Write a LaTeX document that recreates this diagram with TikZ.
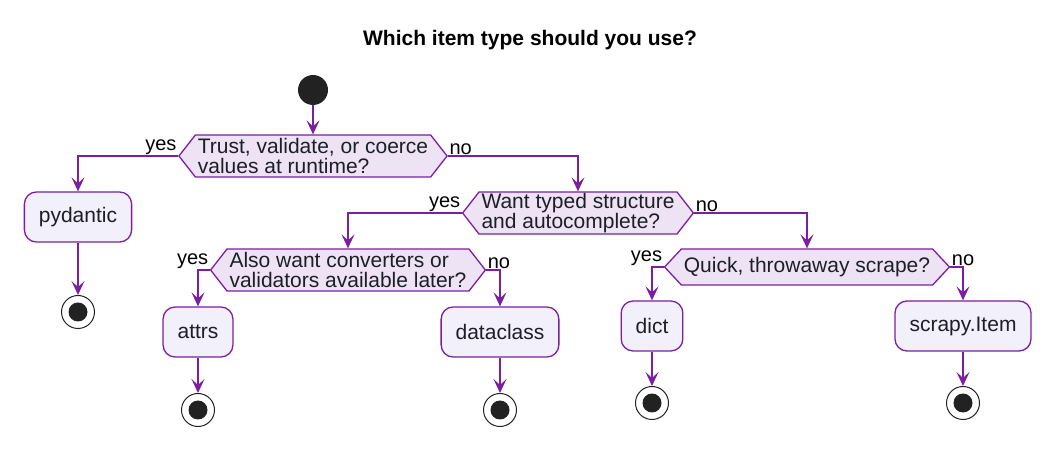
\documentclass[tikz,border=0pt]{standalone}
\usepackage{fontspec}
\setmainfont{Liberation Sans}
\usetikzlibrary{arrows.meta,shapes.symbols}

\definecolor{flowline}{HTML}{7B1FA2}
\definecolor{actfill}{HTML}{F2F0FA}
\definecolor{decfill}{HTML}{EDE3F5}
\definecolor{inkdot}{HTML}{222222}
\definecolor{inktext}{HTML}{1E1E28}

\begin{document}
\begin{tikzpicture}[
  x=1pt,y=-1pt,
  >={Stealth[length=14pt,width=13pt,inset=6pt]},
  txt/.style={font=\fontsize{21}{20}\selectfont, text=inktext},
  action/.style={txt, rectangle, rounded corners=12pt, draw=flowline, fill=actfill, line width=1.3pt, minimum height=50pt, inner xsep=14.5pt},
  decision/.style={txt, signal, signal to=west and east, signal pointer angle=104, draw=flowline, fill=decfill, line width=1.3pt, inner xsep=2.5pt, inner ysep=1pt, minimum height=42pt, align=left},
  startdot/.style={circle, fill=inkdot, minimum size=30pt, inner sep=0pt},
  stopdot/.style={circle, draw=inkdot, line width=1pt, fill=white, minimum size=33pt, inner sep=0pt,
    path picture={\fill[inkdot] (path picture bounding box.center) circle (9.5pt);}},
  flow/.style={->, draw=flowline, line width=1.3pt},
  answer/.style={font=\fontsize{20}{20}\selectfont, text=black, inner sep=1pt}
]
\useasboundingbox (0,0) rectangle (1061,454);

% Title
\node[font=\fontsize{21}{22}\selectfont\bfseries, text=black] (title) at (530,40) {Which item type should you use?};

% Start and the first question
\node[startdot] (start) at (313,90) {};
\node[decision] (trust) at (313,156) {Trust, validate, or coerce\\values at runtime?};

% yes: pydantic
\node[action] (pydantic) at (78,217) {pydantic};
\node[stopdot] (endpyd) at (78,312) {};

% no: second question
\node[decision] (typed) at (578,213) {Want typed structure\\and autocomplete?};

% typed -> yes
\node[decision] (later) at (348,270) {Also want converters or\\validators available later?};
\node[action] (attrs) at (198,332) {attrs};
\node[action] (dataclass) at (500,332) {dataclass};
\node[stopdot] (endattrs) at (198,410) {};
\node[stopdot] (enddc) at (500,410) {};

% typed -> no
\node[decision, signal pointer angle=94, minimum height=36pt] (quick) at (807,267) {Quick, throwaway scrape?};
\node[action] (dict) at (652,326) {dict};
\node[action] (item) at (963,326) {scrapy.Item};
\node[stopdot] (enddict) at (652,403) {};
\node[stopdot] (enditem) at (963,403) {};

% Connectors
\draw[flow] (start.south) -- (trust.north);
\draw[flow] (trust.west) node[answer, anchor=south east] {yes} -| (pydantic.north);
\draw[flow] (trust.east) node[answer, anchor=south west] {no} -| (typed.north);
\draw[flow] (pydantic.south) -- (endpyd.north);

\draw[flow] (typed.west) node[answer, anchor=south east] {yes} -| (later.north);
\draw[flow] (typed.east) node[answer, anchor=south west] {no} -| (quick.north);

\draw[flow] (later.west) node[answer, anchor=south east] {yes} -| (attrs.north);
\draw[flow] (later.east) node[answer, anchor=south west] {no} -| (dataclass.north);
\draw[flow] (attrs.south) -- (endattrs.north);
\draw[flow] (dataclass.south) -- (enddc.north);

\draw[flow] (quick.west) node[answer, anchor=south east] {yes} -| (dict.north);
\draw[flow] (quick.east) node[answer, anchor=south west] {no} -| (item.north);
\draw[flow] (dict.south) -- (enddict.north);
\draw[flow] (item.south) -- (enditem.north);

\end{tikzpicture}
\end{document}
